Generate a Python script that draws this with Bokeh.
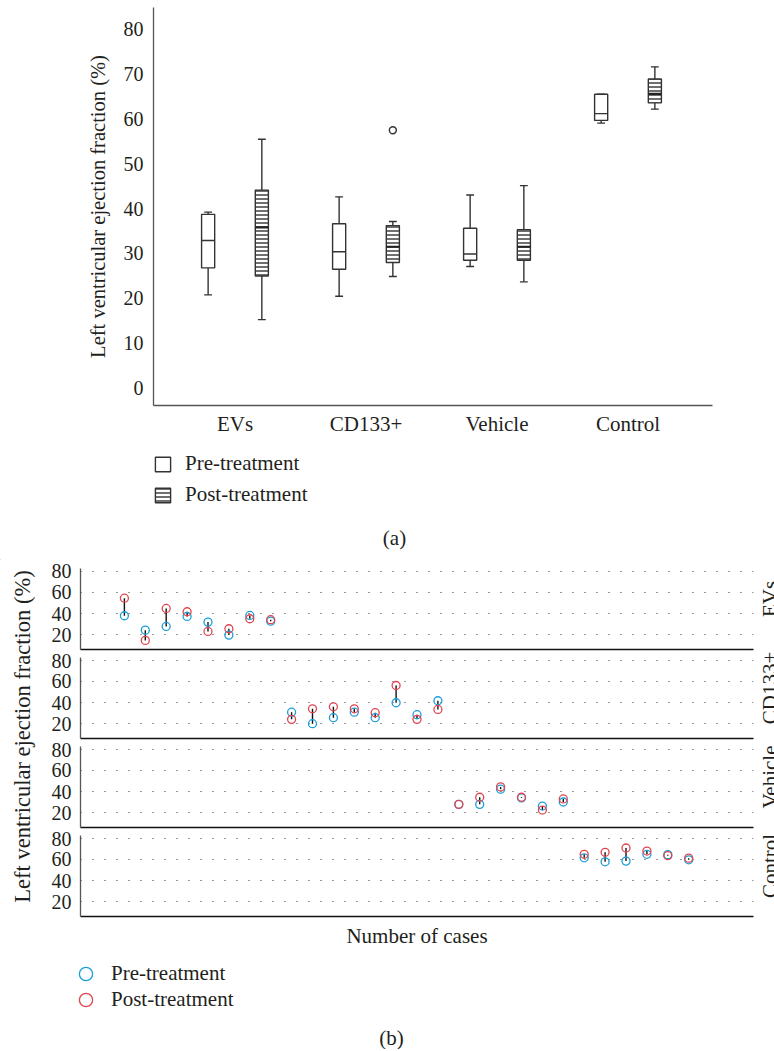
import math
from bokeh.plotting import figure
from bokeh.models import (ColumnDataSource, FixedTicker, Legend, LegendItem, Label, Range1d)
from bokeh.layouts import column, row
from bokeh.embed import file_html
from bokeh.resources import INLINE

# ---------------- data ----------------
groups = ["EVs", "CD133+", "Vehicle", "Control"]

# panel (a): box statistics per group
pre_low = [20.8, 20.5, 27.1, 59.0]
pre_q1 = [26.8, 26.5, 28.5, 59.6]
pre_med = [32.9, 30.4, 29.9, 61.1]
pre_q3 = [38.7, 36.6, 35.6, 65.4]
pre_high = [39.2, 42.6, 43.0, 65.4]

post_low = [15.3, 24.9, 23.7, 62.1]
post_q1 = [25.0, 28.0, 28.5, 63.5]
post_med = [35.8, 31.5, 31.5, 65.5]
post_q3 = [44.1, 36.2, 35.3, 68.8]
post_high = [55.4, 37.1, 45.1, 71.5]

outlier_group = ["CD133+"]
outlier_value = [57.4]

# panel (b): individual cases
case_no = list(range(1, 29))
case_group = ["EVs"] * 8 + ["CD133+"] * 8 + ["Vehicle"] * 6 + ["Control"] * 6
pre_ef = [37.9, 24.3, 27.8, 37.3, 31.9, 19.6, 38.2, 32.8,
          30.9, 20.0, 25.7, 30.9, 25.7, 39.8, 28.5, 41.7,
          27.9, 27.9, 42.2, 34.0, 26.3, 30.1,
          61.5, 57.7, 58.4, 64.8, 64.5, 59.6]
post_ef = [54.5, 14.6, 44.8, 41.7, 23.1, 25.6, 35.1, 34.2,
           24.1, 34.1, 36.0, 34.1, 30.4, 56.1, 24.1, 33.5,
           27.9, 34.6, 44.4, 34.6, 22.5, 33.0,
           64.8, 66.7, 70.8, 67.9, 63.5, 61.2]

# ---------------- styles ----------------
FONT = "Liberation Serif"
TXT = "#231f20"
AX = "#555555"
BLUE = "#1a9ed9"
RED = "#e0454f"
OFF = 0.205
BW = 0.10
CAP = 0.06
W = 774

pre_box_style = dict(fill_color="white", line_color="#333", line_width=1.4)
post_box_style = dict(fill_color="white", hatch_pattern="horizontal_line", hatch_scale=4,
                      hatch_weight=1.3, hatch_color="#222", line_color="#333", line_width=1.4)
pre_pt_style = dict(marker="circle", fill_color=None, line_color=BLUE, line_width=1.3)
post_pt_style = dict(marker="circle", fill_color=None, line_color=RED, line_width=1.3)


def bare_fig(w, h):
    f = figure(width=w, height=h, x_range=Range1d(0, 1), y_range=Range1d(0, 1),
               output_backend="svg", toolbar_location=None, title=None,
               x_axis_location=None, y_axis_location=None, min_border=0)
    f.outline_line_color = None
    f.grid.visible = False
    return f


def txt_label(x, y, text, size="21px", angle=0.0, baseline="middle", align="center"):
    return Label(x=x, y=y, x_units="screen", y_units="screen", text=text, angle=angle,
                 text_align=align, text_baseline=baseline, text_font=FONT,
                 text_font_size=size, text_color=TXT)


# ---------------- panel (a) ----------------
pa = figure(width=W, height=440, x_range=Range1d(0.378, 4.645), y_range=Range1d(-3.8, 84.7),
            output_backend="svg", toolbar_location=None, title=None,
            min_border_left=153, min_border_right=62, min_border_top=7, min_border_bottom=35)
pa.outline_line_color = None
pa.grid.visible = False

gx = [i + 1 for i in range(len(groups))]
pre_x = [x - OFF for x in gx]
post_x = [x + OFF for x in gx]


def box_source(xs, lo, q1, med, q3, hi):
    return ColumnDataSource(dict(x=xs, lo=lo, q1=q1, med=med, q3=q3, hi=hi,
                                 xl=[x - BW / 2 for x in xs], xr=[x + BW / 2 for x in xs],
                                 cl=[x - CAP / 2 for x in xs], cr=[x + CAP / 2 for x in xs]))


src_pre = box_source(pre_x, pre_low, pre_q1, pre_med, pre_q3, pre_high)
src_post = box_source(post_x, post_low, post_q1, post_med, post_q3, post_high)

for src in (src_pre, src_post):
    pa.segment(x0="x", x1="x", y0="q3", y1="hi", source=src, line_color="#333", line_width=1.4)
    pa.segment(x0="x", x1="x", y0="q1", y1="lo", source=src, line_color="#333", line_width=1.4)
    pa.segment(x0="cl", x1="cr", y0="hi", y1="hi", source=src, line_color="#333", line_width=1.4)
    pa.segment(x0="cl", x1="cr", y0="lo", y1="lo", source=src, line_color="#333", line_width=1.4)

pa.vbar(x="x", width=BW, bottom="q1", top="q3", source=src_pre, **pre_box_style)
pa.vbar(x="x", width=BW, bottom="q1", top="q3", source=src_post, **post_box_style)
pa.segment(x0="xl", x1="xr", y0="med", y1="med", source=src_pre, line_color="#333", line_width=1.4)
pa.segment(x0="xl", x1="xr", y0="med", y1="med", source=src_post, line_color="#222", line_width=2.2)

out_x = [gx[groups.index(g)] + OFF for g in outlier_group]
pa.scatter(x=out_x, y=outlier_value, marker="circle", size=7, fill_color="white",
           line_color="#333", line_width=1.4)

pa.yaxis.ticker = FixedTicker(ticks=list(range(0, 81, 10)))
pa.xaxis.ticker = FixedTicker(ticks=gx)
pa.xaxis.major_label_overrides = {x: g for x, g in zip(gx, groups)}
for ax in (pa.xaxis, pa.yaxis):
    ax.axis_line_color = AX
    ax.axis_line_width = 1.3
    ax.major_tick_line_color = None
    ax.minor_tick_line_color = None
    ax.major_tick_out = 0
    ax.major_tick_in = 0
    ax.minor_tick_out = 0
    ax.major_label_text_font = FONT
    ax.major_label_text_color = TXT
pa.yaxis.major_label_text_font_size = "20px"
pa.yaxis.major_label_standoff = 10
pa.xaxis.major_label_text_font_size = "21px"
pa.xaxis.major_label_standoff = 6
pa.yaxis.axis_label = "Left ventricular ejection fraction (%)"
pa.yaxis.axis_label_text_font = FONT
pa.yaxis.axis_label_text_font_size = "20.5px"
pa.yaxis.axis_label_text_font_style = "normal"
pa.yaxis.axis_label_text_color = TXT
pa.yaxis.axis_label_standoff = 12

# legend (a) and caption (swatch renderers sit outside the visible range)
la = bare_fig(W, 120)   # page y 440 .. 560
lr_pre = la.vbar(x=[-10], width=1, bottom=[-11], top=[-10], **pre_box_style)
lr_post = la.vbar(x=[-10], width=1, bottom=[-11], top=[-10], **post_box_style)
la.add_layout(Legend(items=[LegendItem(label="Pre-treatment", renderers=[lr_pre]),
                            LegendItem(label="Post-treatment", renderers=[lr_post])],
                     location=(153, 53), glyph_width=19, glyph_height=18, label_standoff=13,
                     spacing=6, padding=0, margin=0, border_line_color=None,
                     background_fill_alpha=0, label_text_font=FONT, label_text_font_size="21px",
                     label_text_color=TXT), "center")
la.add_layout(txt_label(394, 23, "(a)"))

# ---------------- panel (b) ----------------
panel_tops = [8, 4, 4, 4]
panel_bottoms = [4, 4, 4, 40]
PANEL_H = 81
panels = []
label_y = []
cum = 0
for k, g in enumerate(groups):
    idx = [i for i, cg in enumerate(case_group) if cg == g]
    src = ColumnDataSource(dict(x=[case_no[i] for i in idx], pre=[pre_ef[i] for i in idx],
                                post=[post_ef[i] for i in idx]))
    h = panel_tops[k] + PANEL_H + panel_bottoms[k]
    label_y.append(cum + panel_tops[k] + PANEL_H / 2 - 10)   # from top of column
    cum += h
    pf = figure(width=712, height=h, x_range=Range1d(-1.1, 31.1), y_range=Range1d(6.0, 82.6),
                output_backend="svg", toolbar_location=None, title=None,
                min_border_left=36, min_border_right=3,
                min_border_top=panel_tops[k], min_border_bottom=panel_bottoms[k])
    pf.outline_line_color = None
    pf.xgrid.visible = False
    pf.ygrid.ticker = FixedTicker(ticks=[20, 40, 60, 80])
    pf.ygrid.grid_line_dash = "1 11"
    pf.ygrid.grid_line_color = "#333"
    pf.ygrid.grid_line_width = 1

    pf.segment(x0="x", x1="x", y0="pre", y1="post", source=src, line_color="#111", line_width=1.4)
    pf.scatter(x="x", y="pre", source=src, size=8, **pre_pt_style)
    pf.scatter(x="x", y="post", source=src, size=8, **post_pt_style)

    pf.yaxis.ticker = FixedTicker(ticks=[20, 40, 60, 80])
    pf.xaxis.ticker = FixedTicker(ticks=[])
    for ax in (pf.xaxis, pf.yaxis):
        ax.major_tick_line_color = None
        ax.minor_tick_line_color = None
        ax.major_tick_out = 0
        ax.major_tick_in = 0
        ax.minor_tick_out = 0
    pf.yaxis.axis_line_color = AX
    pf.yaxis.axis_line_width = 1.3
    pf.xaxis.axis_line_color = "#111"
    pf.xaxis.axis_line_width = 1.6
    pf.xaxis.major_label_standoff = 0
    pf.yaxis.major_label_text_font = FONT
    pf.yaxis.major_label_text_font_size = "20px"
    pf.yaxis.major_label_text_color = TXT
    pf.yaxis.major_label_standoff = 9
    if k == len(groups) - 1:
        pf.xaxis.axis_label = "Number of cases"
        pf.xaxis.axis_label_text_font = FONT
        pf.xaxis.axis_label_text_font_size = "21px"
        pf.xaxis.axis_label_text_font_style = "normal"
        pf.xaxis.axis_label_text_color = TXT
        pf.xaxis.axis_label_standoff = 7
    panels.append(pf)

total_h = cum
# shared y-axis title on the left
lab_fig = bare_fig(44, total_h)
lab_fig.add_layout(txt_label(22, total_h - 176, "Left ventricular ejection fraction (%)",
                             size="22.5px", angle=math.pi / 2))
# strip labels on the right
rlab_fig = bare_fig(W - 44 - 712, total_h)
for g, ly in zip(groups, label_y):
    rlab_fig.add_layout(txt_label(1, total_h - ly, g, angle=math.pi / 2, baseline="top"))

# legend (b) and caption
lb = bare_fig(W, 93)   # page y 956 .. 1049
lb_pre = lb.scatter(x=[-10], y=[-10], size=8, **pre_pt_style)
lb_post = lb.scatter(x=[-10], y=[-10], size=8, **post_pt_style)
for lab, rr, vy in (("Pre-treatment", lb_pre, 59.5), ("Post-treatment", lb_post, 33.5)):
    lb.add_layout(Legend(items=[LegendItem(label=lab, renderers=[rr])], location=(69, vy),
                         glyph_width=33, glyph_height=33, label_standoff=9, padding=0, margin=0,
                         border_line_color=None, background_fill_alpha=0,
                         label_text_font=FONT, label_text_font_size="21px",
                         label_text_color=TXT), "center")
lb.add_layout(txt_label(391, 12, "(b)"))

layout = column(pa, row(la), row(lab_fig, column(*panels), rlab_fig), row(lb))

open("out.html", "w").write(file_html(layout, INLINE))
